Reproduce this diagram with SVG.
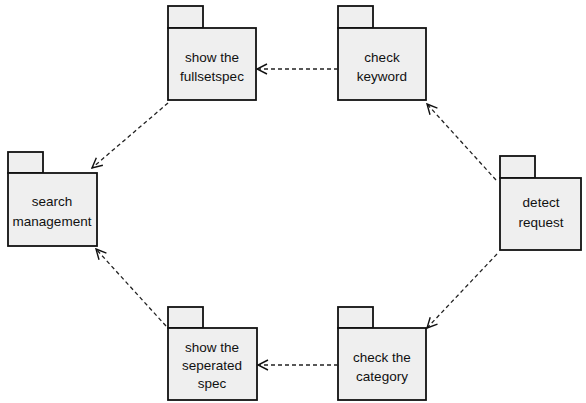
<svg xmlns="http://www.w3.org/2000/svg" width="586" height="403" viewBox="0 0 586 403">
<style>
.pk{fill:#efefef;stroke:#111;stroke-width:1.8}
.t{font-family:"Liberation Sans",Arial,sans-serif;font-size:13.5px;fill:#111;text-anchor:middle}
.c{fill:none;stroke:#222;stroke-width:1.3;stroke-dasharray:4 3}
</style>
<defs>
<marker id="arr" viewBox="0 0 12 12" refX="11" refY="6" markerWidth="12" markerHeight="12" markerUnits="userSpaceOnUse" orient="auto">
<path d="M1,1 L11,6 L1,11" fill="none" stroke="#111" stroke-width="1.4"/>
</marker>
</defs>
<rect width="586" height="403" fill="#fff"/>
<g id="fullsetspec">
<rect class="pk" x="168" y="6" width="35" height="22"/>
<rect class="pk" x="168" y="28" width="88" height="72"/>
<text class="t" x="212" y="62">show the</text>
<text class="t" x="212" y="81">fullsetspec</text>
</g>
<g id="keyword">
<rect class="pk" x="338" y="6" width="35" height="22"/>
<rect class="pk" x="338" y="28" width="88" height="72"/>
<text class="t" x="382" y="62">check</text>
<text class="t" x="382" y="81">keyword</text>
</g>
<g id="search">
<rect class="pk" x="8" y="152" width="35" height="21"/>
<rect class="pk" x="8" y="173" width="89" height="73"/>
<text class="t" x="52" y="206">search</text>
<text class="t" x="52" y="226">management</text>
</g>
<g id="detect">
<rect class="pk" x="500" y="156" width="35" height="22"/>
<rect class="pk" x="500" y="178" width="81" height="72"/>
<text class="t" x="541" y="207">detect</text>
<text class="t" x="541" y="227">request</text>
</g>
<g id="seperated">
<rect class="pk" x="168" y="307" width="35" height="21"/>
<rect class="pk" x="168" y="328" width="89" height="72"/>
<text class="t" x="212" y="352">show the</text>
<text class="t" x="212" y="370">seperated</text>
<text class="t" x="212" y="388">spec</text>
</g>
<g id="category">
<rect class="pk" x="338" y="307" width="35" height="21"/>
<rect class="pk" x="338" y="328" width="88" height="72"/>
<text class="t" x="382" y="362">check the</text>
<text class="t" x="382" y="381">category</text>
</g>
<g id="connectors">
<line class="c" x1="338" y1="69" x2="257" y2="69" marker-end="url(#arr)"/>
<line class="c" x1="168" y1="103" x2="92" y2="168" marker-end="url(#arr)"/>
<line class="c" x1="496" y1="180" x2="427" y2="104" marker-end="url(#arr)"/>
<line class="c" x1="497" y1="254" x2="427" y2="328" marker-end="url(#arr)"/>
<line class="c" x1="338" y1="365" x2="258" y2="365" marker-end="url(#arr)"/>
<line class="c" x1="166" y1="326" x2="96" y2="249" marker-end="url(#arr)"/>
</g>
</svg>
